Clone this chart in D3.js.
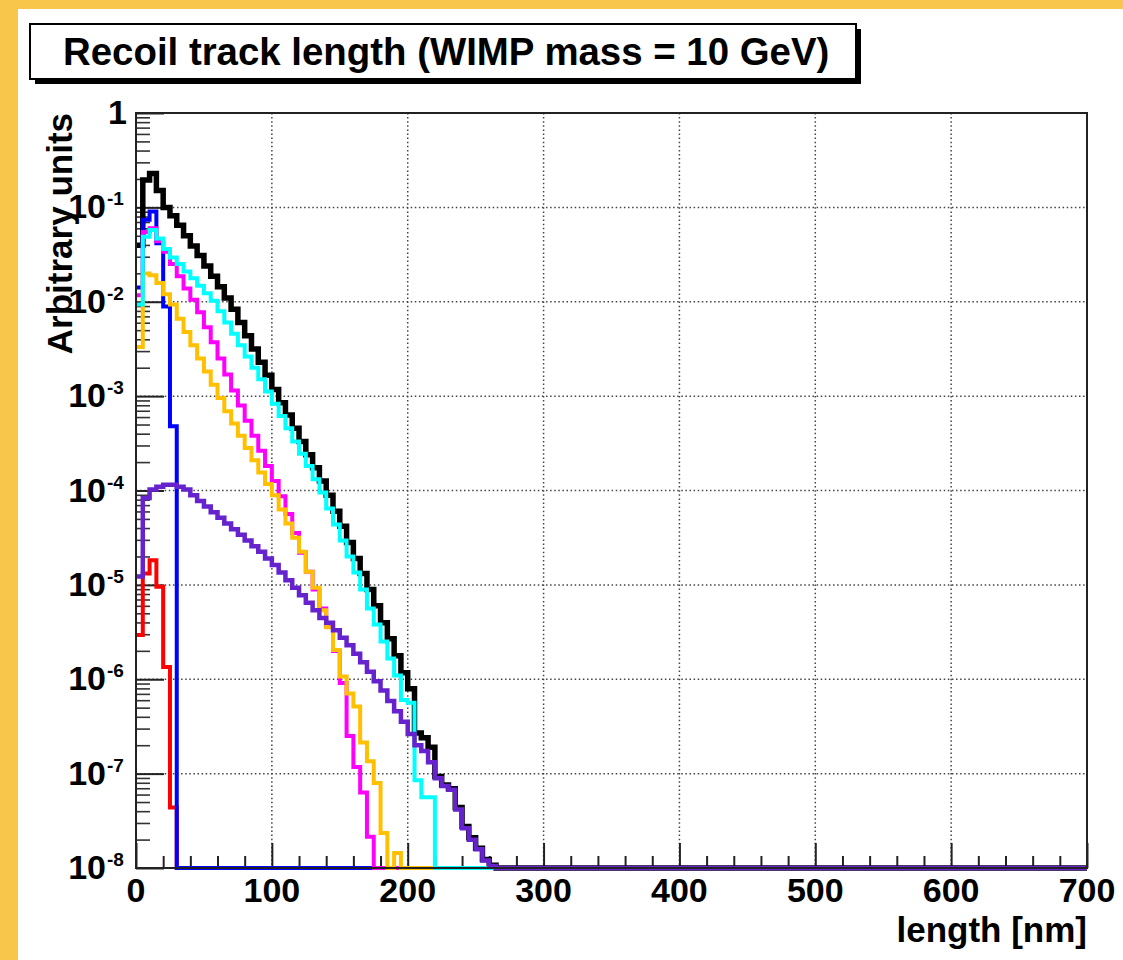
<!DOCTYPE html>
<html>
<head>
<meta charset="utf-8">
<script src="https://cdn.jsdelivr.net/npm/d3@7"></script>
<style>
  html, body { margin: 0; padding: 0; background: #F8C64B; }
  svg { display: block; }
  text { font-family: "Liberation Sans", Arial, Helvetica, sans-serif; font-weight: bold; fill: #000; }
</style>
</head>
<body>
<svg id="chart" width="1123" height="960"></svg>
<script>
// ---------------- data (log10 of "Arbitrary units" per 5 nm bin) ----------------
const binWidthNm = 5;
const xRange = [0, 700];
const yRange = [1e-8, 1];
const xTickValues = [0, 100, 200, 300, 400, 500, 600, 700];
const yTickExponents = [0, -1, -2, -3, -4, -5, -6, -7, -8];

// null = empty bin
const blackTotal = [-1.40, -0.71, -0.64, -0.82, -1.00, -1.09, -1.19, -1.30, -1.41, -1.51,
  -1.62, -1.73, -1.84, -1.96, -2.08, -2.22, -2.36, -2.50, -2.64, -2.78,
  -2.93, -3.07, -3.20, -3.34, -3.48, -3.62, -3.76, -3.90, -4.05, -4.22,
  -4.38, -4.55, -4.72, -4.88, -5.05, -5.22, -5.40, -5.57, -5.75, -5.93,
  -6.10, -6.57, -6.62, -6.72, -7.03, -7.12, -7.16, -7.36, -7.56, -7.68,
  -7.79, -7.91, -7.97];
const redSeries = [-5.53, -4.88, -4.74, -5.02, -5.87, -7.36];
const blueSeries = [-1.85, -1.13, -1.045, -1.38, -2.05, -3.32];
const magentaSeries = [-1.93, -1.26, -1.22, -1.36, -1.47, -1.60, -1.73, -1.86, -1.98, -2.11,
  -2.27, -2.43, -2.60, -2.77, -2.94, -3.10, -3.26, -3.42, -3.58, -3.74,
  -3.90, -4.06, -4.25, -4.45, -4.66, -4.86, -5.05, -5.25, -5.44, -5.70,
  -6.04, -6.60, -6.93, -7.20, -7.67];
const orangeSeries = [-2.48, -1.70, -1.72, -1.80, -1.92, -2.03, -2.18, -2.32, -2.46, -2.60,
  -2.74, -2.88, -3.02, -3.16, -3.29, -3.42, -3.55, -3.68, -3.81, -3.93,
  -4.05, -4.20, -4.35, -4.50, -4.65, -4.86, -5.03, -5.27, -5.45, -5.69,
  -5.97, -6.15, -6.29, -6.67, -6.87, -7.10, -7.63, null, -7.84];
const cyanSeries = [-2.03, -1.31, -1.24, -1.33, -1.44, -1.53, -1.60, -1.68, -1.75, -1.83,
  -1.91, -1.99, -2.10, -2.22, -2.34, -2.46, -2.58, -2.70, -2.82, -2.95,
  -3.08, -3.21, -3.34, -3.48, -3.61, -3.74, -3.88, -4.02, -4.19, -4.36,
  -4.53, -4.70, -4.87, -5.05, -5.25, -5.42, -5.60, -5.78, -5.96, -6.22,
  -6.25, -7.07, -7.25, -7.25];
const purpleSeries = [-4.91, -4.08, -3.99, -3.96, -3.94, -3.94, -3.96, -3.99, -4.05, -4.11,
  -4.17, -4.23, -4.29, -4.35, -4.41, -4.47, -4.53, -4.59, -4.65, -4.72,
  -4.79, -4.87, -4.95, -5.03, -5.11, -5.19, -5.27, -5.35, -5.40, -5.48,
  -5.56, -5.64, -5.73, -5.82, -5.92, -6.02, -6.12, -6.23, -6.34, -6.45,
  -6.58, -6.70, -6.76, -6.88, -7.05, -7.13, -7.17, -7.38, -7.58, -7.70,
  -7.80, -7.92, -7.98];

const titleText = "Recoil track length (WIMP mass = 10 GeV)";
const xTitle = "length [nm]";
const yTitle = "Arbitrary units";

// draw order (later on top)
const seriesList = [
  { name: "total", data: blackTotal, color: "#000000", width: 5.5 },
  { name: "red", data: redSeries, color: "#ff0000", width: 4 },
  { name: "blue", data: blueSeries, color: "#0000ff", width: 4 },
  { name: "magenta", data: magentaSeries, color: "#ff00ff", width: 4 },
  { name: "orange", data: orangeSeries, color: "#ffc000", width: 4 },
  { name: "cyan", data: cyanSeries, color: "#00ffff", width: 4 },
  { name: "purple", data: purpleSeries, color: "#6622cc", width: 4.5 }
];

// ---------------- layout ----------------
const frame = { left: 136, right: 1087, top: 113, bottom: 868 };
const svg = d3.select("#chart");

// white canvas inside yellow border
svg.append("rect").attr("x", 18).attr("y", 9).attr("width", 1123 - 18).attr("height", 960 - 9).attr("fill", "#ffffff");

const x = d3.scaleLinear().domain(xRange).range([frame.left, frame.right]);
const y = d3.scaleLog().domain(yRange).range([frame.bottom, frame.top]);

// grid (dotted)
const grid = svg.append("g").attr("stroke", "#444").attr("stroke-width", 1.5).attr("stroke-dasharray", "1.5,2.6");
xTickValues.filter(v => v > xRange[0] && v < xRange[1]).forEach(v => {
  grid.append("line").attr("x1", x(v)).attr("x2", x(v)).attr("y1", frame.top).attr("y2", frame.bottom);
});
yTickExponents.filter(e => e < 0 && e > -8).forEach(e => {
  grid.append("line").attr("x1", frame.left).attr("x2", frame.right).attr("y1", y(Math.pow(10, e))).attr("y2", y(Math.pow(10, e)));
});

// axes ticks via d3.axis (inward ticks)
const xMinor = d3.range(xRange[0], xRange[1] + 1, 20).filter(v => v % 100 !== 0);
svg.append("g").attr("transform", `translate(0,${frame.bottom})`)
  .call(d3.axisBottom(x).tickValues(xMinor).tickSizeInner(-12).tickSizeOuter(0).tickFormat(""))
  .call(g => g.select(".domain").remove())
  .call(g => g.selectAll("line").attr("stroke", "#222").attr("stroke-width", 2));
svg.append("g").attr("transform", `translate(0,${frame.bottom})`)
  .call(d3.axisBottom(x).tickValues(xTickValues).tickSizeInner(-25).tickSizeOuter(0).tickFormat(""))
  .call(g => g.select(".domain").remove())
  .call(g => g.selectAll("line").attr("stroke", "#222").attr("stroke-width", 2));

const yMinor = [];
for (let e = -8; e < 0; e++) for (let m = 2; m <= 9; m++) yMinor.push(m * Math.pow(10, e));
svg.append("g").attr("transform", `translate(${frame.left},0)`)
  .call(d3.axisLeft(y).tickValues(yMinor).tickSizeInner(-14).tickSizeOuter(0).tickFormat(""))
  .call(g => g.select(".domain").remove())
  .call(g => g.selectAll("line").attr("stroke", "#333").attr("stroke-width", 1.6));
svg.append("g").attr("transform", `translate(${frame.left},0)`)
  .call(d3.axisLeft(y).tickValues(yTickExponents.map(e => Math.pow(10, e))).tickSizeInner(-28).tickSizeOuter(0).tickFormat(""))
  .call(g => g.select(".domain").remove())
  .call(g => g.selectAll("line").attr("stroke", "#222").attr("stroke-width", 2));

// histograms
const nBins = Math.round((xRange[1] - xRange[0]) / binWidthNm);
const stepLine = d3.line().curve(d3.curveStepAfter).x(d => x(d[0])).y(d => y(d[1]));
seriesList.forEach(s => {
  const pts = [];
  for (let i = 0; i < nBins; i++) {
    const v = (i < s.data.length && s.data[i] !== null) ? Math.max(Math.pow(10, s.data[i]), yRange[0]) : yRange[0];
    pts.push([xRange[0] + i * binWidthNm, v]);
  }
  pts.push([xRange[1], pts[pts.length - 1][1]]);
  svg.append("path").attr("d", stepLine(pts)).attr("fill", "none")
    .attr("stroke", s.color).attr("stroke-width", s.width)
    .attr("stroke-linejoin", "miter").attr("stroke-linecap", "butt");
});

// frame
svg.append("rect").attr("x", frame.left).attr("y", frame.top)
  .attr("width", frame.right - frame.left).attr("height", frame.bottom - frame.top)
  .attr("fill", "none").attr("stroke", "#222").attr("stroke-width", 2);

// x tick labels
xTickValues.forEach(v => {
  svg.append("text").attr("x", x(v)).attr("y", 902).attr("text-anchor", "middle")
    .attr("font-size", 34).text(v);
});
// y tick labels
yTickExponents.forEach(e => {
  const yy = y(Math.pow(10, e));
  if (e === 0) {
    svg.append("text").attr("x", 127).attr("y", yy + 11).attr("text-anchor", "end").attr("font-size", 34).text("1");
  } else {
    svg.append("text").attr("x", 106).attr("y", yy + 11).attr("text-anchor", "end").attr("font-size", 34).text("10");
    svg.append("text").attr("x", 107).attr("y", yy - 2).attr("text-anchor", "start").attr("font-size", 19).text(String(e));
  }
});

// axis titles
svg.append("text").attr("x", frame.right).attr("y", 942).attr("text-anchor", "end").attr("font-size", 35).text(xTitle);
svg.append("text").attr("transform", `translate(72,${frame.top}) rotate(-90)`).attr("text-anchor", "end")
  .attr("font-size", 35).text(yTitle);

// title box with shadow
svg.append("rect").attr("x", 35).attr("y", 29).attr("width", 826).attr("height", 55).attr("fill", "#000");
svg.append("rect").attr("x", 30).attr("y", 24).attr("width", 826).attr("height", 55).attr("fill", "#fff")
  .attr("stroke", "#000").attr("stroke-width", 2);
svg.append("text").attr("x", 63).attr("y", 65).attr("font-size", 38.4).text(titleText);
</script>
</body>
</html>
